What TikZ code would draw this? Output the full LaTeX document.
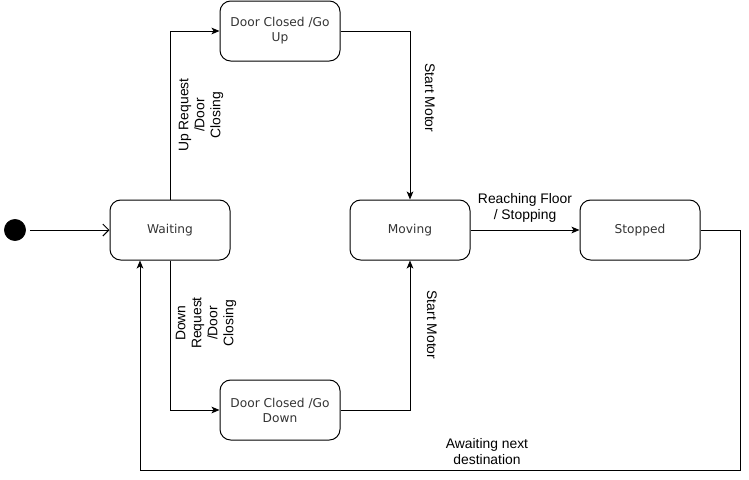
\documentclass[tikz,border=0pt]{standalone}
\usepackage{fontspec}
\setmainfont{Liberation Sans}
\newfontfamily\nodefont{DejaVu Sans}
\usetikzlibrary{arrows.meta}
\begin{document}
\begin{tikzpicture}[x=0.75pt,y=-0.75pt,
  statebox/.style={draw, line width=0.75pt, rounded corners=8pt, minimum width=90pt, minimum height=45pt, inner sep=0pt, align=center, font=\nodefont\fontsize{9.15}{11.3}\selectfont, text=black!80},
  initdot/.style={circle, fill=black, draw=black, minimum size=16pt, inner sep=0pt},
  edge/.style={line width=0.75pt, -{Stealth[length=6pt,width=5pt,inset=1.5pt]}},
  openedge/.style={line width=0.75pt, shorten <=3pt, -{Straight Barb[length=4.5pt,width=9pt]}},
  lbl/.style={font=\fontsize{10.4}{12}\selectfont, align=center, inner sep=0pt}]
\useasboundingbox (0,0) rectangle (749,479);
\node[initdot] (init) at (15,230) {};
\node[statebox] (wait) at (170,230) {Waiting};
\node[statebox] (up) at (280,31) {Door Closed /Go\\Up};
\node[statebox] (mov) at (410,230) {Moving};
\node[statebox] (stop) at (640,230) {Stopped};
\node[statebox] (down) at (280,410) {Door Closed /Go\\Down};
\coordinate (c1) at (740,230);
\coordinate (c2) at (740,470);
\coordinate (c3) at (140,470);
\draw[openedge] (init) -- (wait);
\draw[edge] (wait.north) |- (up.west);
\draw[edge] (up.east) -| (mov.north);
\draw[edge] (wait.south) |- (down.west);
\draw[edge] (down.east) -| (mov.south);
\draw[edge] (mov) -- (stop);
\draw[edge] (stop.east) -- (c1) -- (c2) -- (c3) -- (c3 |- wait.south);
\node[lbl, rotate=90] (l1) at (201,115) {Up Request\\/Door\\Closing};
\node[lbl, rotate=90] (l2) at (206,323) {Down\\Request\\/Door\\Closing};
\node[lbl, rotate=-90] (l3) at (430,98) {Start Motor};
\node[lbl, rotate=-90] (l4) at (432,325) {Start Motor};
\node[lbl] (l5) at (525,208) {Reaching Floor\\/ Stopping};
\node[lbl] (l6) at (487,452) {Awaiting next\\destination};
\end{tikzpicture}
\end{document}
